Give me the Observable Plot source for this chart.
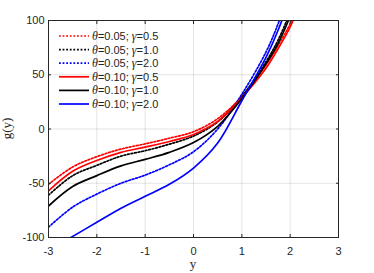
<!DOCTYPE html>
<html><head><meta charset="utf-8">
<script src="https://cdn.jsdelivr.net/npm/d3@7"></script>
<script src="https://cdn.jsdelivr.net/npm/@observablehq/plot@0.6"></script>
<style>
body{margin:0;background:#fff}
#wrap{position:relative;width:374px;height:273px}
#legend{position:absolute;left:0;top:0}
</style>
</head><body><div id="wrap"></div>
<script>
// shared abscissa (y)
const yGrid = [-3, -2.5, -2, -1.5, -1, -0.5, 0, 0.5, 1, 1.5, 1.75, 2, 2.25];
// g(y) values
const g_t005_g05 = [-51, -35, -25.5, -18.5, -13.7, -8.5, -2.5, 9.5, 30, 59, 77, 97, 125];
const g_t005_g10 = [-61, -43, -33.5, -25, -20, -14, -6.5, 6.5, 30, 62, 82, 108, 140];
const g_t005_g20 = [-90.5, -72, -60, -50, -42.5, -33, -21, 0, 32, 71, 97, 130, 170];
const g_t010_g05 = [-57, -39, -29, -21.5, -16.7, -11.5, -5, 7, 29, 56, 74, 94, 122];
const g_t010_g10 = [-71, -53, -43, -34, -28, -21.5, -12.5, 2.5, 28, 60, 79, 104, 135];
const g_t010_g20 = [-112, -99, -86, -73, -62, -51, -36, -13, 26, 66, 91, 122, 160];

const seriesNames = ["θ=0.05; γ=0.5", "θ=0.05; γ=1.0", "θ=0.05; γ=2.0", "θ=0.10; γ=0.5", "θ=0.10; γ=1.0", "θ=0.10; γ=2.0"];
const seriesVals = [g_t005_g05, g_t005_g10, g_t005_g20, g_t010_g05, g_t010_g10, g_t010_g20];
const seriesColor = ["#ff0000", "#000000", "#0000ff", "#ff0000", "#000000", "#0000ff"];
const seriesDotted = [true, true, true, false, false, false];
const thetaLab = ["0.05", "0.05", "0.05", "0.10", "0.10", "0.10"];
const gammaLab = ["0.5", "1.0", "2.0", "0.5", "1.0", "2.0"];

const xTicks = [-3, -2, -1, 0, 1, 2, 3];
const yTicks = [-100, -50, 0, 50, 100];

const rows = [];
seriesNames.forEach((name, i) => {
  yGrid.forEach((x, j) => rows.push({s: name, x, v: seriesVals[i][j], i}));
});

const axisColor = "#262626";
const lineMarks = seriesNames.map((name, i) =>
  Plot.line(rows.filter(d => d.i === i), {
    x: "x", y: "v", stroke: seriesColor[i], strokeWidth: 1.7,
    strokeDasharray: seriesDotted[i] ? "1.8,1.8" : null,
    curve: "catmull-rom", clip: true
  })
);

const plot = Plot.plot({
  width: 374, height: 273,
  marginLeft: 48, marginRight: 36, marginTop: 20, marginBottom: 36,
  style: {fontFamily: "'Liberation Sans', Arial, sans-serif", fontSize: "11px", color: axisColor, background: "#fff"},
  x: {domain: [-3, 3]},
  y: {domain: [-100, 100]},
  marks: [
    Plot.gridX(xTicks, {stroke: axisColor, strokeOpacity: 0.13, strokeWidth: 1}),
    Plot.gridY(yTicks, {stroke: axisColor, strokeOpacity: 0.13, strokeWidth: 1}),
    ...lineMarks,
    Plot.frame({stroke: axisColor, strokeWidth: 1}),
    Plot.axisX(xTicks, {anchor: "bottom", tickSize: -3, tickPadding: 13, stroke: axisColor, fill: axisColor, label: null, tickFormat: d => String(d), fontSize: 11}),
    Plot.axisX(xTicks, {anchor: "top", tickSize: -3, tickFormat: () => "", label: null, stroke: axisColor}),
    Plot.axisY(yTicks, {anchor: "left", tickSize: -3, tickPadding: 7, stroke: axisColor, fill: axisColor, label: null, tickFormat: d => String(d), fontSize: 11}),
    Plot.axisY(yTicks, {anchor: "right", tickSize: -3, tickFormat: () => "", label: null, stroke: axisColor})
  ]
});

const wrap = document.getElementById("wrap");
wrap.appendChild(plot);

// axis titles (serif, LaTeX-like)
const svg = d3.select(plot);
const xs = plot.scale("x"), ys = plot.scale("y");
svg.append("text").attr("x", (xs.range[0] + xs.range[1]) / 2).attr("y", 268)
  .attr("text-anchor", "middle").attr("font-family", "'Liberation Serif', 'DejaVu Serif', serif")
  .attr("font-size", 13).attr("fill", axisColor).text("y");
svg.append("text").attr("transform", `translate(11,${(ys.range[0] + ys.range[1]) / 2}) rotate(-90)`)
  .attr("text-anchor", "middle").attr("font-family", "'Liberation Serif', 'DejaVu Serif', serif")
  .attr("font-size", 13).attr("fill", axisColor).text("g(y)");

// legend overlay
const lg = d3.select(wrap).append("svg").attr("id", "legend").attr("width", 374).attr("height", 273);
const x0 = xs.range[0] + 11, rowTop = 36, rowStep = 13.6;
seriesNames.forEach((name, i) => {
  const yy = rowTop + i * rowStep;
  lg.append("line").attr("x1", x0).attr("x2", x0 + 30).attr("y1", yy).attr("y2", yy)
    .attr("stroke", seriesColor[i]).attr("stroke-width", 1.7)
    .attr("stroke-dasharray", seriesDotted[i] ? "1.8,1.8" : null);
  const t = lg.append("text").attr("x", x0 + 33).attr("y", yy + 4)
    .attr("font-family", "'Liberation Sans', Arial, sans-serif").attr("font-size", 11).attr("fill", axisColor);
  t.append("tspan").attr("font-family", "'Liberation Serif', serif").attr("font-style", "italic").attr("font-size", 12).text("θ");
  t.append("tspan").text("=" + thetaLab[i] + "; ");
  t.append("tspan").attr("font-family", "'Liberation Serif', serif").attr("font-style", "italic").attr("font-size", 12).text("γ");
  t.append("tspan").text("=" + gammaLab[i]);
});
</script>
</body></html>
